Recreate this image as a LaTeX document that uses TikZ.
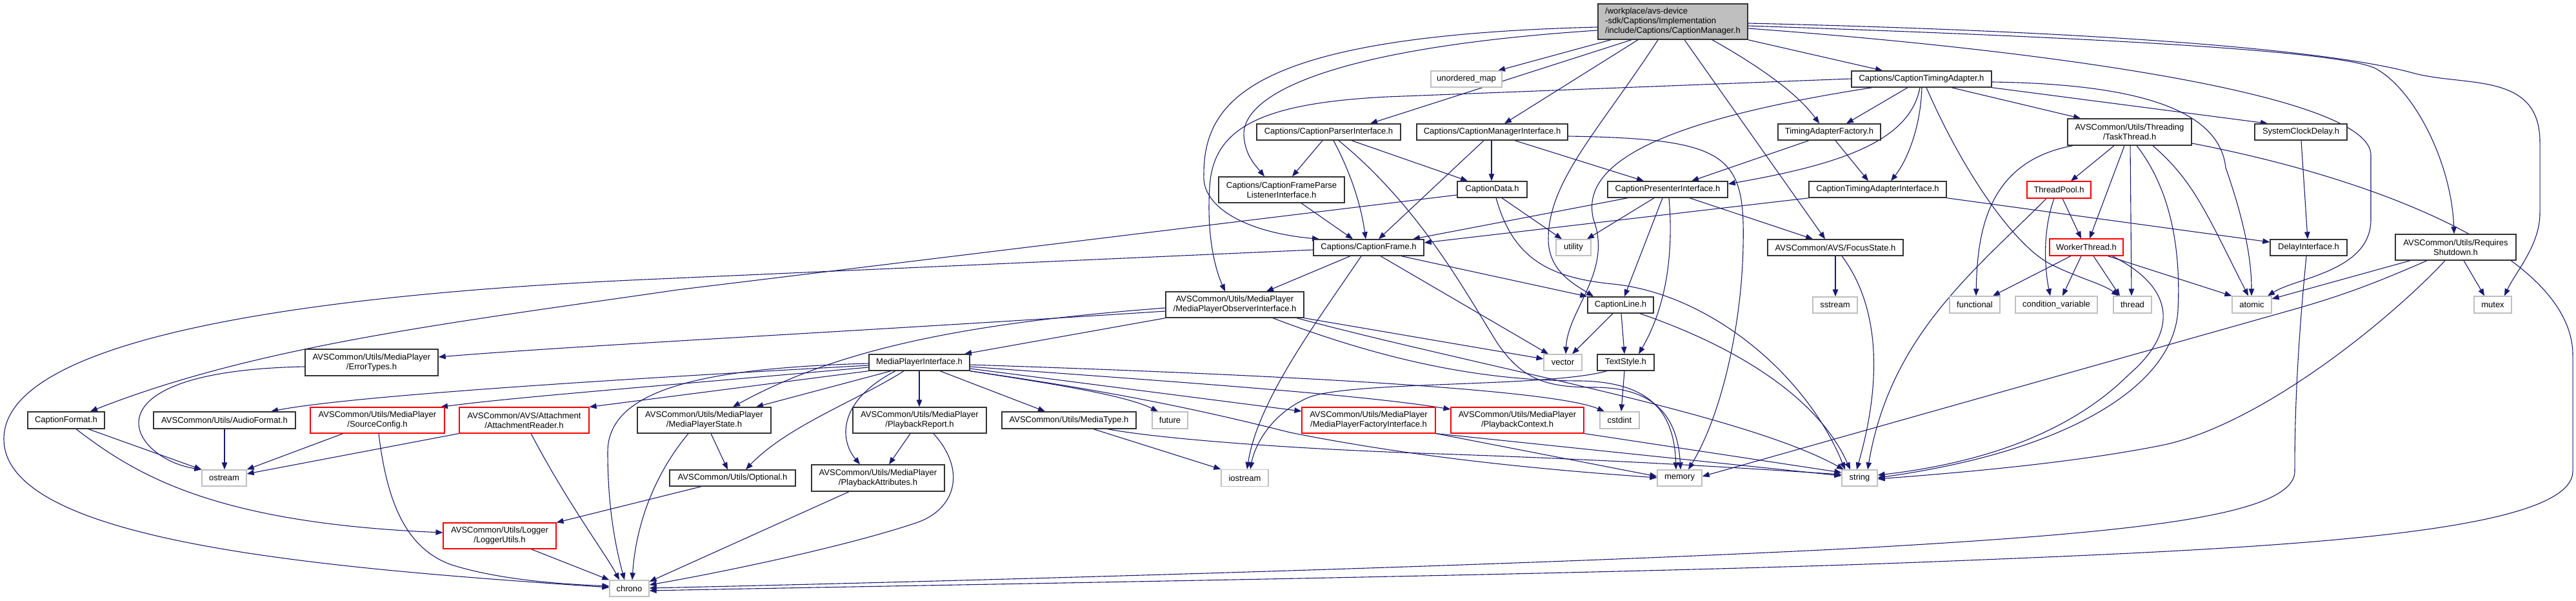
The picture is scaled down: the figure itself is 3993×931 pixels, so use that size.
\documentclass[tikz,border=0pt]{standalone}
\usepackage{fontspec}
\setmainfont{Liberation Sans}
\usetikzlibrary{arrows.meta}
\definecolor{edgec}{HTML}{191970}
\pgfdeclarelayer{edges}
\pgfsetlayers{edges,main}
\begin{document}
\begin{tikzpicture}[x=1pt,y=-1pt,
  box/.style={draw=black!80, line width=1.4pt, fill=white, inner sep=0pt, align=center, font=\fontsize{13}{15}\selectfont},
  gbox/.style={box, draw=black!25, line width=1.3pt},
  rbox/.style={box, draw=red, line width=1.1pt},
  sz/.style 2 args={minimum width=#1pt, minimum height=#2pt},
  edg/.style={draw=edgec, line width=1.1pt, -{Triangle[length=11pt,width=8.5pt]}},
]
\useasboundingbox (0,0) rectangle (3993,931);

% ---------- nodes ----------
\node[box, fill=black!25, sz={232}{55}, align=left] (root) at (2593,33.5) {/workplace/avs-device\\-sdk/Captions/Implementation\\/include/Captions/CaptionManager.h};
\node[gbox, sz={110}{25}] (umap) at (2273,122.5) {unordered\_map};
\node[box, sz={217}{25}] (cta) at (2978.5,122.5) {Captions/CaptionTimingAdapter.h};
\node[box, sz={223}{25}] (cpi) at (2059.5,204.5) {Captions/CaptionParserInterface.h};
\node[box, sz={234}{25}] (cmi) at (2313,204.5) {Captions/CaptionManagerInterface.h};
\node[box, sz={159}{25}] (taf) at (2835.5,204.5) {TimingAdapterFactory.h};
\node[box, sz={192}{41}] (taskth) at (3301,204.5) {AVSCommon/Utils/Threading\\/TaskThread.h};
\node[box, sz={143}{25}] (scd) at (3566.5,204.5) {SystemClockDelay.h};
\node[box, sz={195}{40}] (cfpli) at (1986.5,294) {Captions/CaptionFrameParse\\ListenerInterface.h};
\node[box, sz={108}{25}] (cdata) at (2313,293.5) {CaptionData.h};
\node[box, sz={186}{25}] (cpresi) at (2585,293.5) {CaptionPresenterInterface.h};
\node[box, sz={213}{25}] (ctai) at (2910.5,293.5) {CaptionTimingAdapterInterface.h};
\node[rbox, sz={99}{26}] (tpool) at (3191.5,294) {ThreadPool.h};
\node[box, sz={171}{25}] (cframe) at (2121.5,383.5) {Captions/CaptionFrame.h};
\node[gbox, sz={54}{25}] (utility) at (2439,383.5) {utility};
\node[box, sz={210}{25}] (focus) at (2845,383.5) {AVSCommon/AVS/FocusState.h};
\node[rbox, sz={114}{26}] (worker) at (3234,383) {WorkerThread.h};
\node[box, sz={119}{25}] (delay) at (3578.5,383.5) {DelayInterface.h};
\node[box, sz={187}{40}] (rshut) at (3806.5,383) {AVSCommon/Utils/Requires\\Shutdown.h};
\node[box, sz={214}{40}] (mpoi) at (1914,472) {AVSCommon/Utils/MediaPlayer\\/MediaPlayerObserverInterface.h};
\node[box, sz={102}{25}] (cline) at (2512,472.5) {CaptionLine.h};
\node[gbox, sz={69}{25}] (sstream) at (2844.5,472.5) {sstream};
\node[gbox, sz={78}{26}] (functional) at (3061,472) {functional};
\node[gbox, sz={127}{26}] (condvar) at (3187.5,472) {condition\_variable};
\node[gbox, sz={59}{26}] (thread) at (3305.5,472) {thread};
\node[gbox, sz={61}{26}] (atomic) at (3490.5,472) {atomic};
\node[gbox, sz={58}{26}] (mutex) at (3864,472) {mutex};
\node[box, sz={206}{41}] (errtypes) at (576,561.5) {AVSCommon/Utils/MediaPlayer\\/ErrorTypes.h};
\node[box, sz={156}{25}] (mpi) at (1425,561.5) {MediaPlayerInterface.h};
\node[gbox, sz={59}{25}] (vector) at (2422.5,561.5) {vector};
\node[box, sz={88}{25}] (textstyle) at (2520,561.5) {TextStyle.h};
\node[box, sz={119}{26}] (cformat) at (102.5,651) {CaptionFormat.h};
\node[box, sz={220}{26}] (audiofmt) at (348,651) {AVSCommon/Utils/AudioFormat.h};
\node[rbox, sz={208}{40}] (srccfg) at (585,651) {AVSCommon/Utils/MediaPlayer\\/SourceConfig.h};
\node[rbox, sz={201}{40}] (attreader) at (812.5,651) {AVSCommon/AVS/Attachment\\/AttachmentReader.h};
\node[box, sz={207}{40}] (mpstate) at (1091.5,651) {AVSCommon/Utils/MediaPlayer\\/MediaPlayerState.h};
\node[box, sz={207}{40}] (pbreport) at (1425.5,651) {AVSCommon/Utils/MediaPlayer\\/PlaybackReport.h};
\node[box, sz={208}{26}] (mediatype) at (1657,651) {AVSCommon/Utils/MediaType.h};
\node[gbox, sz={55}{26}] (future) at (1813.5,651) {future};
\node[rbox, sz={207}{40}] (mpfi) at (2121.5,651) {AVSCommon/Utils/MediaPlayer\\/MediaPlayerFactoryInterface.h};
\node[rbox, sz={206}{40}] (pbctx) at (2352,651) {AVSCommon/Utils/MediaPlayer\\/PlaybackContext.h};
\node[gbox, sz={61}{26}] (cstdint) at (2510.5,651) {cstdint};
\node[gbox, sz={69}{25}] (ostream) at (347.5,740.5) {ostream};
\node[box, sz={195}{25}] (optional) at (1135.5,740.5) {AVSCommon/Utils/Optional.h};
\node[box, sz={206}{41}] (pbattr) at (1361,740.5) {AVSCommon/Utils/MediaPlayer\\/PlaybackAttributes.h};
\node[gbox, sz={73}{26}] (iostream) at (1929.5,740.5) {iostream};
\node[gbox, sz={69}{25}] (memory) at (2603.5,740.5) {memory};
\node[gbox, sz={55}{25}] (string) at (2882.5,740.5) {string};
\node[rbox, sz={175}{40}] (logger) at (774.5,830) {AVSCommon/Utils/Logger\\/LoggerUtils.h};
\node[gbox, sz={61}{25}] (chrono) at (975.5,911.5) {chrono};

% ---------- edges ----------
\begin{pgfonlayer}{edges}
% root
\draw[edg] (root.south -| 2497,0) -- (umap.north -| 2322,0);
\draw[edg] (root.south -| 2529,0) -- (cpi.north -| 2124,0);
\draw[edg] (root.south -| 2539,0) -- (cmi.north -| 2332,0);
\draw[edg] (root.south -| 2570,0) .. controls (2480,200) and (2400,280) .. (2400,370) .. controls (2400,420) and (2440,440) .. (cline.north -| 2470,0);
\draw[edg] (root.south -| 2611,0) -- (focus.north -| 2829,0);
\draw[edg] (root.south -| 2654,0) .. controls (2740,110) and (2790,150) .. (taf.north -| 2820,0);
\draw[edg] (root.south east) -- (cta.north -| 2918,0);
\draw[edg] (root.east |- 0,36) .. controls (3300,50) and (3620,80) .. (3740,113) .. controls (3820,135) and (3937,110) .. (3937,220) -- (3937,330) .. controls (3937,380) and (3900,420) .. (mutex.north -| 3882,0);
\draw[edg] (root.east |- 0,40) .. controls (3300,60) and (3620,80) .. (3680,105) .. controls (3740,135) and (3800,250) .. (rshut.north -| 3804,0);
\draw[edg] (root.east |- 0,44) .. controls (3200,80) and (3675,150) .. (3675,240) -- (3675,340) .. controls (3675,420) and (3560,430) .. (atomic.north -| 3515,0);
\draw[edg] (root.west |- 0,42) .. controls (1950,55) and (1866,150) .. (1866,270) .. controls (1862,320) and (1930,360) .. (cframe.north -| 2045,0);
\draw[edg] (root.west |- 0,47) .. controls (2050,75) and (1925,150) .. (1928,210) .. controls (1930,240) and (1945,255) .. (cfpli.north -| 1960,0);
% CaptionTimingAdapter
\draw[edg] (cta.west |- 0,122) -- (2150,150) .. controls (1950,160) and (1880,200) .. (1875,290) .. controls (1870,370) and (1885,420) .. (mpoi.north -| 1899,0);
\draw[edg] (cta.south -| 2902,0) .. controls (2550,190) and (2450,260) .. (2470,340) .. controls (2500,420) and (2430,480) .. (vector.north -| 2427,0);
\draw[edg] (cta.south -| 2976,0) .. controls (2960,220) and (2850,255) .. (cpresi.east |- 0,285);
\draw[edg] (cta.south -| 2957,0) -- (taf.north -| 2862,0);
\draw[edg] (cta.south -| 2979,0) .. controls (2977,200) and (2955,250) .. (ctai.north -| 2931,0);
\draw[edg] (cta.south -| 2986,0) .. controls (3040,260) and (3120,380) .. (3180,410) .. controls (3220,430) and (3260,440) .. (thread.north -| 3284,0);
\draw[edg] (cta.south -| 3025,0) -- (taskth.north -| 3225,0);
\draw[edg] (cta.south east) -- (scd.north -| 3515,0);
\draw[edg] (cta.east |- 0,127) .. controls (3300,130) and (3440,165) .. (3450,260) .. controls (3478,340) and (3490,400) .. (atomic.north -| 3490,0);
% CaptionParserInterface
\draw[edg] (cpi.south -| 2050,0) -- (cfpli.north -| 2003,0);
\draw[edg] (cpi.south -| 2067,0) .. controls (2095,270) and (2110,320) .. (cframe.north -| 2117,0);
\draw[edg] (cpi.south -| 2075,0) .. controls (2200,320) and (2270,450) .. (2320,530) .. controls (2360,590) and (2400,600) .. (2470,600) .. controls (2560,600) and (2600,640) .. (memory.north -| 2605,0);
\draw[edg] (cpi.south -| 2095,0) -- (cdata.north -| 2275,0);
% CaptionManagerInterface
\draw[edg] (cmi.south -| 2300,0) -- (cframe.north -| 2137,0);
\draw[edg] (cmi.south -| 2312,0) -- (cdata.north -| 2312,0);
\draw[edg] (cmi.south -| 2348,0) -- (cpresi.north -| 2548,0);
\draw[edg] (cmi.east |- 0,211) .. controls (2680,215) and (2705,240) .. (2702,380) .. controls (2700,500) and (2670,640) .. (memory.north -| 2617,0);
% TimingAdapterFactory
\draw[edg] (taf.south -| 2804,0) -- (cpresi.north -| 2622,0);
\draw[edg] (taf.south -| 2845,0) -- (ctai.north -| 2896,0);
% CaptionFrameParseListenerInterface
\draw[edg] (cfpli.south -| 2017,0) -- (cframe.north -| 2097,0);
% CaptionData
\draw[edg] (cdata.west |- 0,302) -- (1050,449) .. controls (700,500) and (400,535) .. (cformat.north -| 140,0);
\draw[edg] (cdata.south -| 2328,0) -- (utility.north -| 2421,0);
\draw[edg] (cdata.south -| 2319,0) .. controls (2345,400) and (2400,430) .. (2500,440) .. controls (2650,455) and (2800,580) .. (string.north -| 2860,0);
% CaptionPresenterInterface
\draw[edg] (cpresi.south -| 2523,0) -- (cframe.north -| 2190,0);
\draw[edg] (cpresi.south -| 2564,0) -- (utility.north -| 2460,0);
\draw[edg] (cpresi.south -| 2577,0) -- (cline.north -| 2518,0);
\draw[edg] (cpresi.south -| 2587,0) .. controls (2595,400) and (2580,480) .. (textstyle.north -| 2540,0);
\draw[edg] (cpresi.south -| 2619,0) -- (focus.north -| 2810,0);
% CaptionTimingAdapterInterface
\draw[edg] (ctai.south -| 2804,0) -- (cframe.east |- 0,376);
\draw[edg] (ctai.south east) -- (delay.west |- 0,375);
% CaptionFrame
\draw[edg] (cframe.west |- 0,387) -- (1000,433) .. controls (500,455) and (6,520) .. (6,680) .. controls (6,840) and (500,880) .. (chrono.west |- 0,910);
\draw[edg] (cframe.south -| 2093,0) -- (mpoi.north -| 1963,0);
\draw[edg] (cframe.south -| 2110,0) .. controls (2040,500) and (1950,620) .. (iostream.north -| 1933,0);
\draw[edg] (cframe.south -| 2140,0) -- (vector.north -| 2400,0);
\draw[edg] (cframe.south -| 2172,0) -- (cline.north west);
% FocusState
\draw[edg] (focus.south -| 2845,0) -- (sstream.north -| 2845,0);
\draw[edg] (focus.south -| 2855,0) .. controls (2910,470) and (2920,580) .. (string.north -| 2878,0);
% CaptionLine
\draw[edg] (cline.south -| 2500,0) -- (vector.north -| 2437,0);
\draw[edg] (cline.south -| 2513,0) -- (textstyle.north -| 2518,0);
\draw[edg] (cline.south -| 2542,0) .. controls (2700,540) and (2820,620) .. (string.north -| 2868,0);
% TextStyle
\draw[edg] (textstyle.south -| 2518,0) -- (cstdint.north -| 2513,0);
\draw[edg] (textstyle.south -| 2491,0) .. controls (2400,600) and (2100,590) .. (2030,615) .. controls (1970,640) and (1945,690) .. (iostream.north -| 1938,0);
% MediaPlayerObserverInterface
\draw[edg] (mpoi.west |- 0,477) .. controls (1500,500) and (1300,540) .. (mpstate.north -| 1136,0);
\draw[edg] (mpoi.west |- 0,482) .. controls (1300,515) and (900,535) .. (errtypes.east |- 0,553);
\draw[edg] (mpoi.south west) -- (mpi.north -| 1495,0);
\draw[edg] (mpoi.south east) -- (vector.west |- 0,556);
\draw[edg] (mpoi.south -| 2010,0) .. controls (2300,570) and (2700,640) .. (string.north -| 2858,0);
\draw[edg] (mpoi.south -| 1973,0) .. controls (2150,560) and (2300,590) .. (2450,590) .. controls (2560,592) and (2595,640) .. (memory.north -| 2598,0);
% MediaPlayerInterface
\draw[edg] (mpi.west |- 0,563) .. controls (1100,570) and (942,600) .. (942,700) .. controls (942,790) and (955,850) .. (chrono.north -| 968,0);
\draw[edg] (mpi.west |- 0,566) .. controls (1000,585) and (550,612) .. (audiofmt.north -| 420,0);
\draw[edg] (mpi.west |- 0,569) .. controls (1000,600) and (800,615) .. (srccfg.north -| 683,0);
\draw[edg] (mpi.south west) -- (attreader.north east);
\draw[edg] (mpi.south -| 1381,0) -- (mpstate.north -| 1172,0);
\draw[edg] (mpi.south -| 1401,0) .. controls (1330,620) and (1220,660) .. (optional.north -| 1156,0);
\draw[edg] (mpi.south -| 1388,0) .. controls (1300,620) and (1300,680) .. (pbattr.north -| 1333,0);
\draw[edg] (mpi.south -| 1425,0) -- (pbreport.north -| 1425,0);
\draw[edg] (mpi.south -| 1457,0) -- (mediatype.north -| 1620,0);
\draw[edg] (mpi.south east) .. controls (1600,590) and (1740,610) .. (future.north -| 1795,0);
\draw[edg] (mpi.east |- 0,565) .. controls (1900,578) and (2400,600) .. (cstdint.north -| 2487,0);
\draw[edg] (mpi.east |- 0,568) .. controls (1800,590) and (2100,610) .. (pbctx.west |- 0,634);
\draw[edg] (mpi.east |- 0,571) -- (mpfi.west |- 0,637);
\draw[edg] (mpi.south east) .. controls (1750,610) and (1880,640) .. (2000,670) .. controls (2200,710) and (2400,728) .. (memory.west |- 0,740);
% MediaType
\draw[edg] (mediatype.south -| 1695,0) -- (iostream.north west);
\draw[edg] (mediatype.south -| 1717,0) .. controls (1800,680) and (2000,695) .. (2200,702) .. controls (2500,712) and (2700,725) .. (string.west |- 0,735);
% MediaPlayerFactoryInterface, PlaybackContext
\draw[edg] (mpfi.south east) -- (memory.west |- 0,738);
\draw[edg] (mpfi.south east) -- (string.west |- 0,737);
\draw[edg] (pbctx.south east) -- (string.west |- 0,732);
% left group
\draw[edg] (errtypes.west |- 0,568) .. controls (120,575) and (200,710) .. (ostream.north west);
\draw[edg] (cformat.south -| 137,0) -- (ostream.north west);
\draw[edg] (cformat.south -| 118,0) .. controls (210,735) and (330,810) .. (logger.west |- 0,825);
\draw[edg] (audiofmt.south -| 348,0) -- (ostream.north -| 348,0);
\draw[edg] (srccfg.south -| 532,0) -- (ostream.north east);
\draw[edg] (srccfg.south -| 587,0) .. controls (600,780) and (630,850) .. (700,875) .. controls (780,900) and (880,905) .. (chrono.west |- 0,908);
\draw[edg] (attreader.south west) -- (ostream.east |- 0,734);
\draw[edg] (attreader.south -| 823,0) .. controls (880,780) and (940,860) .. (chrono.north -| 960,0);
\draw[edg] (logger.south -| 823,0) -- (chrono.north west);
\draw[edg] (optional.south -| 1087,0) -- (logger.north east);
\draw[edg] (mpstate.south -| 1102,0) -- (optional.north -| 1128,0);
\draw[edg] (mpstate.south -| 1067,0) .. controls (1010,740) and (985,820) .. (chrono.north -| 980,0);
\draw[edg] (pbreport.south -| 1411,0) -- (pbattr.north -| 1378,0);
\draw[edg] (pbreport.south -| 1447,0) .. controls (1500,730) and (1480,790) .. (1420,810) .. controls (1300,850) and (1100,890) .. (chrono.east |- 0,906);
\draw[edg] (pbattr.south -| 1316,0) -- (chrono.east |- 0,901);
% Delay / SystemClockDelay
\draw[edg] (scd.south -| 3567,0) -- (delay.north -| 3577,0);
\draw[edg] (delay.south -| 3575,0) .. controls (3560,550) and (3557,650) .. (3557,730) .. controls (3557,800) and (3300,825) .. (2900,848) .. controls (2400,875) and (1500,900) .. (chrono.east |- 0,911);
% TaskThread
\draw[edg] (taskth.east |- 0,222) .. controls (3700,280) and (3988,400) .. (3988,550) -- (3988,730) .. controls (3988,830) and (3500,850) .. (3000,870) .. controls (2500,890) and (1500,905) .. (chrono.east |- 0,915);
\draw[edg] (taskth.south -| 3213,0) .. controls (3080,250) and (3065,360) .. (functional.north -| 3063,0);
\draw[edg] (taskth.south -| 3277,0) -- (tpool.north -| 3210,0);
\draw[edg] (taskth.south -| 3293,0) -- (worker.north -| 3239,0);
\draw[edg] (taskth.south -| 3302,0) -- (thread.north -| 3304,0);
\draw[edg] (taskth.south -| 3312,0) .. controls (3370,300) and (3380,400) .. (3376,480) .. controls (3370,600) and (3200,700) .. (string.east |- 0,740);
\draw[edg] (taskth.south -| 3337,0) .. controls (3400,280) and (3420,330) .. (atomic.north -| 3485,0);
% ThreadPool
\draw[edg] (tpool.south -| 3197,0) -- (worker.north -| 3226,0);
\draw[edg] (tpool.south -| 3184,0) .. controls (3165,360) and (3170,420) .. (condvar.north -| 3178,0);
\draw[edg] (tpool.south -| 3172,0) .. controls (3060,420) and (2930,520) .. (string.north -| 2895,0);
% WorkerThread
\draw[edg] (worker.south -| 3210,0) -- (functional.north -| 3089,0);
\draw[edg] (worker.south -| 3226,0) -- (condvar.north -| 3197,0);
\draw[edg] (worker.south -| 3245,0) -- (thread.north -| 3286,0);
\draw[edg] (worker.south -| 3267,0) -- (atomic.north west);
\draw[edg] (worker.south -| 3274,0) .. controls (3380,450) and (3370,520) .. (3300,580) .. controls (3200,680) and (3050,720) .. (string.east |- 0,736);
% RequiresShutdown
\draw[edg] (rshut.south -| 3736,0) -- (atomic.east |- 0,463);
\draw[edg] (rshut.south -| 3762,0) .. controls (3690,435) and (3640,455) .. (3560,478) -- (memory.east |- 0,738);
\draw[edg] (rshut.south -| 3790,0) .. controls (3700,500) and (3500,660) .. (3350,690) .. controls (3200,720) and (3000,735) .. (string.east |- 0,742);
\draw[edg] (rshut.south -| 3819,0) -- (mutex.north -| 3851,0);
\end{pgfonlayer}
\end{tikzpicture}
\end{document}
